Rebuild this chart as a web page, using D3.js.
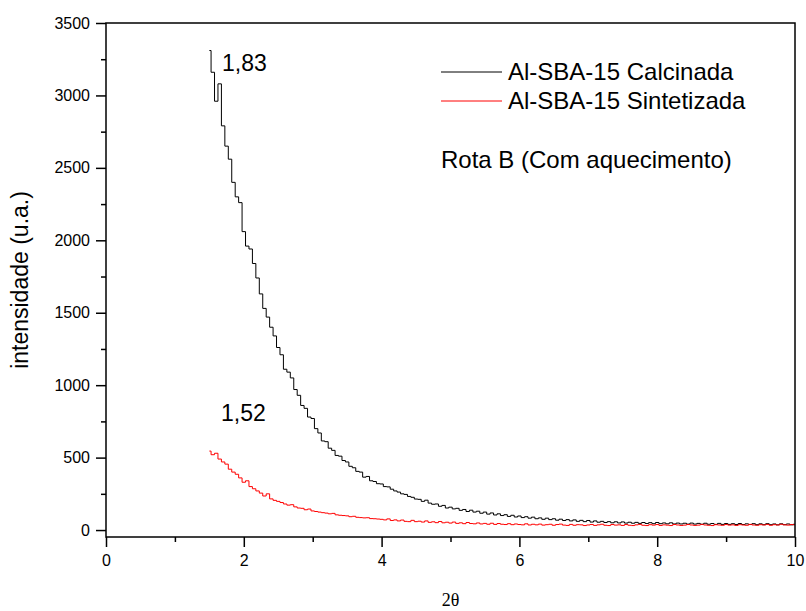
<!DOCTYPE html>
<html>
  <head>
    <meta charset="utf-8">
    <title>Al-SBA-15 DRX baixo angulo</title>
    <style>
      body { margin: 0; background: #fff; }
      text { font-family: "Liberation Sans", Arial, sans-serif; fill: #000; }
    </style>
  </head>
  <body>
    <script src="https://cdn.jsdelivr.net/npm/d3@7"></script>
    <script>
      // 2theta grid of the readings (start, step)
      const theta0 = 1.5;
      const thetaStep = 0.05;

      // Al-SBA-15 Calcinada, every 0.05 deg
      const calcinada = [
        3310, 3160, 2960, 3080, 2790, 2650, 2560, 2400, 2300, 2260,
        2060, 1960, 1940, 1840, 1740, 1630, 1530, 1470, 1400, 1340,
        1260, 1210, 1110, 1090, 1050, 970, 930, 860, 840, 780,
        770, 700, 670, 615, 610, 565, 550, 515, 510, 480,
        470, 440, 430, 405, 400, 365, 370, 340, 335, 320,
        318, 300, 298, 282, 270, 262, 250, 246, 232, 226,
        214, 212, 198, 206, 186, 178, 180, 164, 170, 152,
        158, 146, 150, 136, 142, 128, 137, 124, 130, 116,
        124, 110, 118, 104, 112, 100, 106, 94, 102, 90,
        97, 86, 92, 82, 89, 78, 84, 74, 82, 72,
        78, 68, 75, 66, 72, 63, 70, 60, 67, 58,
        66, 55, 63, 54, 60, 52, 58, 50, 57, 49,
        56, 48, 54, 47, 53, 46, 52, 45, 51, 44,
        52, 44, 49, 43, 50, 42, 48, 42, 47, 41,
        48, 41, 46, 40, 47, 40, 45, 39, 46, 39,
        45, 39, 44, 38, 45, 38, 43, 38, 44, 37,
        43, 37, 44, 37, 42, 36, 43, 37, 42, 36,
        40
      ];

      // Al-SBA-15 Sintetizada
      const sintetizada = [
        545, 520, 530, 490, 470, 455, 420, 400, 385, 360,
        330, 340, 300, 285, 270, 255, 235, 250, 215, 205,
        198, 190, 180, 172, 175, 160, 152, 150, 140, 145,
        132, 128, 124, 120, 117, 112, 115, 105, 102, 100,
        98, 92, 95, 88, 86, 84, 85, 79, 78, 76,
        74, 70, 77, 66, 70, 63, 69, 60, 58, 67,
        58, 61, 55, 63, 53, 57, 51, 59, 50, 54,
        48, 55, 46, 50, 44, 52, 45, 43, 49, 42,
        46, 40, 47, 39, 45, 40, 38, 44, 37, 42,
        38, 36, 43, 35, 40, 36, 41, 34, 37, 40,
        33, 38, 41, 34, 32, 39, 33, 37, 36, 31,
        35, 38, 32, 36, 40, 33, 31, 38, 34, 36,
        32, 38, 33, 31, 36, 39, 33, 31, 37, 34,
        38, 32, 36, 34, 31, 38, 35, 32, 34, 38,
        35, 32, 34, 39, 35, 33, 31, 37, 35, 33,
        38, 34, 36, 32, 37, 35, 33, 39, 35, 33,
        37, 35, 39, 33, 37, 35, 40, 36, 34, 38,
        36
      ];

      const xTicks = [0, 2, 4, 6, 8, 10];
      const yTicks = [0, 500, 1000, 1500, 2000, 2500, 3000, 3500];
      const seriesNames = ["Al-SBA-15 Calcinada", "Al-SBA-15 Sintetizada"];
      const seriesColors = ["#000", "#ff0000"];
      const peakLabels = ["1,83", "1,52"];

      const width = 806;
      const height = 611;
      const margin = {left: 106, right: 11, top: 23, bottom: 74};

      const x = d3.scaleLinear().domain([0, 10]).range([margin.left, width - margin.right]);
      const y = d3.scaleLinear().domain([-48, 3500]).range([height - margin.bottom, margin.top]);

      const svg = d3.select("body").append("svg")
          .attr("width", width)
          .attr("height", height);

      const toPoints = vals => vals.map((v, i) => [theta0 + i * thetaStep, v]);

      const line = d3.line()
          .x(d => x(d[0]))
          .y(d => y(d[1]))
          .curve(d3.curveStep);

      // data lines
      [calcinada, sintetizada].forEach((vals, i) => {
        svg.append("path")
            .datum(toPoints(vals))
            .attr("fill", "none")
            .attr("stroke", seriesColors[i])
            .attr("stroke-width", 1)
            .attr("d", line);
      });

      // frame
      svg.append("rect")
          .attr("x", x(0))
          .attr("y", y(3500))
          .attr("width", x(10) - x(0))
          .attr("height", y(-48) - y(3500))
          .attr("fill", "none")
          .attr("stroke", "#000")
          .attr("stroke-width", 1.5);

      // bottom axis
      const xAxis = svg.append("g")
          .attr("transform", `translate(0,${y(-48)})`)
          .call(d3.axisBottom(x).tickValues(xTicks).tickSize(10).tickPadding(8).tickFormat(d3.format("d")));
      xAxis.append("g")
          .call(d3.axisBottom(x).tickValues([1, 3, 5, 7, 9]).tickSize(5).tickFormat(""));

      // left axis
      const yAxis = svg.append("g")
          .attr("transform", `translate(${x(0)},0)`)
          .call(d3.axisLeft(y).tickValues(yTicks).tickSize(10).tickPadding(6).tickFormat(d3.format("d")));
      yAxis.append("g")
          .call(d3.axisLeft(y).tickValues(d3.range(250, 3500, 500)).tickSize(5).tickFormat(""));

      svg.selectAll(".domain").remove();
      svg.selectAll(".tick line").attr("stroke", "#000").attr("stroke-width", 1.5);
      svg.selectAll(".tick text")
          .attr("font-family", "'Liberation Sans', Arial, sans-serif")
          .attr("font-size", 16)
          .attr("fill", "#000");

      // axis titles
      svg.append("text")
          .attr("x", (x(0) + x(10)) / 2)
          .attr("y", 606)
          .attr("text-anchor", "middle")
          .style("font-family", "'Liberation Serif', 'Times New Roman', serif")
          .attr("font-size", 18)
          .text("2θ");

      svg.append("text")
          .attr("transform", `translate(28,${(y(3500) + y(-48)) / 2}) rotate(-90)`)
          .attr("text-anchor", "middle")
          .attr("font-size", 23)
          .text("intensidade (u.a.)");

      // peak positions
      svg.append("text")
          .attr("x", 222).attr("y", 71)
          .attr("font-size", 23)
          .text(peakLabels[0]);
      svg.append("text")
          .attr("x", 221).attr("y", 421)
          .attr("font-size", 23)
          .text(peakLabels[1]);

      // legend
      const legend = svg.append("g").attr("transform", "translate(441,72)");
      seriesNames.forEach((name, i) => {
        legend.append("line")
            .attr("x1", 0).attr("x2", 61)
            .attr("y1", i * 29).attr("y2", i * 29)
            .attr("stroke", seriesColors[i])
            .attr("stroke-width", 1);
        legend.append("text")
            .attr("x", 67).attr("y", i * 29 + 8)
            .attr("font-size", 24)
            .text(name);
      });
      svg.append("text")
          .attr("x", 441).attr("y", 168)
          .attr("font-size", 24)
          .text("Rota B (Com aquecimento)");
    </script>
  </body>
</html>
